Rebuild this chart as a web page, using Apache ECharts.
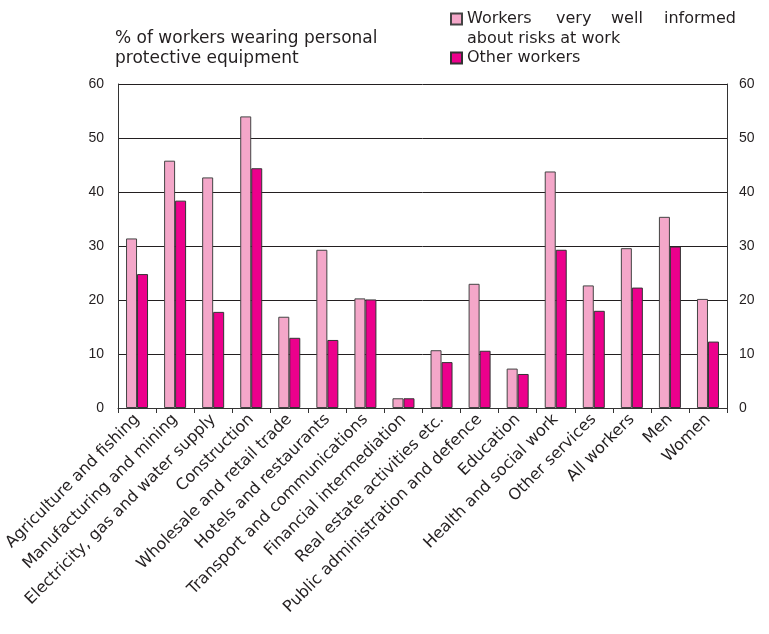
<!DOCTYPE html>
<html>
<head>
<meta charset="utf-8">
<script src="https://cdn.jsdelivr.net/npm/echarts@6/dist/echarts.min.js"></script>
<style>html,body{margin:0;padding:0;background:#fff;}#chart{width:769px;height:634px;}</style>
</head>
<body>
<div id="chart"></div>
<script>
var categories = ["Agriculture and fishing","Manufacturing and mining","Electricity, gas and water supply","Construction","Wholesale and retail trade","Hotels and restaurants","Transport and communications","Financial intermediation","Real estate activities etc.","Public administration and defence","Education","Health and social work","Other services","All workers","Men","Women"];
var informedWorkers = [31.4,45.8,42.7,54.0,16.9,29.3,20.3,1.8,10.7,23.0,7.3,43.8,22.7,29.6,35.4,20.2];
var otherWorkers = [24.8,38.4,17.8,44.4,13.0,12.6,20.1,1.8,8.5,10.6,6.3,29.3,18.0,22.3,29.9,12.3];
var yMin = 0, yMax = 60, yStep = 10;
var seriesNames = ["Workers very well informed about risks at work", "Other workers"];
var titleText = "% of workers wearing personal\nprotective equipment";

var TXT = '#231f20';
var WIDE = '"DejaVu Sans", sans-serif';
var ARIAL = '"Liberation Sans", Arial, sans-serif';
var richBase = {fontFamily: WIDE, fontSize: 16, lineHeight: 20, color: TXT};
function rs(w){ var o = Object.assign({}, richBase); if (w) o.width = w; return o; }

var chart = echarts.init(document.getElementById('chart'), null, {renderer: 'canvas'});
var yAxisBase = {
  type: 'value', min: yMin, max: yMax, interval: yStep,
  axisLine: {show: true, lineStyle: {color: '#333', width: 1}},
  axisTick: {show: false},
  axisLabel: {color: TXT, fontFamily: ARIAL, fontSize: 14}
};
chart.setOption({
  animation: false,
  backgroundColor: '#fff',
  title: {
    text: titleText, left: 115, top: 29, padding: 0,
    textStyle: {fontFamily: WIDE, fontSize: 17, fontWeight: 'normal', color: TXT, lineHeight: 20}
  },
  legend: [{
    data: [{name: seriesNames[0], icon: 'path://M0,0h11v11h-11zM0,31'}],
    left: 450, top: 9, padding: 0, orient: 'vertical',
    itemWidth: 11, itemHeight: 31,
    formatter: function(){ return '{a|Workers}{b|very}{c|well}{d|informed}\n{e|about risks at work}'; },
    textStyle: {fontFamily: WIDE, fontSize: 16, color: TXT, lineHeight: 20,
      rich: {a: rs(89), b: rs(55), c: rs(53), d: rs(), e: rs()}}
  }, {
    data: [{name: seriesNames[1], icon: 'rect'}],
    left: 450, top: 48, padding: 0, orient: 'vertical',
    itemWidth: 11, itemHeight: 11,
    textStyle: {fontFamily: WIDE, fontSize: 16, color: TXT, lineHeight: 20}
  }],
  grid: {left: 118, right: 42, top: 84, bottom: 226, containLabel: false},
  xAxis: {
    type: 'category', data: categories, boundaryGap: true,
    axisLine: {show: true, lineStyle: {color: '#333', width: 1}},
    axisTick: {show: true, alignWithLabel: false, interval: 0, length: 5, lineStyle: {color: '#333'}},
    axisLabel: {interval: 0, rotate: 45, margin: 9, color: TXT, fontFamily: WIDE, fontSize: 16}
  },
  yAxis: [
    Object.assign({}, yAxisBase, {position: 'left',
      splitLine: {show: true, lineStyle: {color: '#231f20', width: 1}},
      axisLabel: Object.assign({}, yAxisBase.axisLabel, {margin: 14})}),
    Object.assign({}, yAxisBase, {position: 'right',
      splitLine: {show: false},
      axisLabel: Object.assign({}, yAxisBase.axisLabel, {margin: 12})})
  ],
  series: [{
    name: seriesNames[0], type: 'bar', data: informedWorkers, barWidth: 11, barGap: '0%',
    itemStyle: {color: '#F4A7C9', borderColor: '#444', borderWidth: 1}
  }, {
    name: seriesNames[1], type: 'bar', data: otherWorkers, barWidth: 11, barGap: '0%',
    itemStyle: {color: '#EC008C', borderColor: '#333', borderWidth: 1}
  }]
});
</script>
</body>
</html>
